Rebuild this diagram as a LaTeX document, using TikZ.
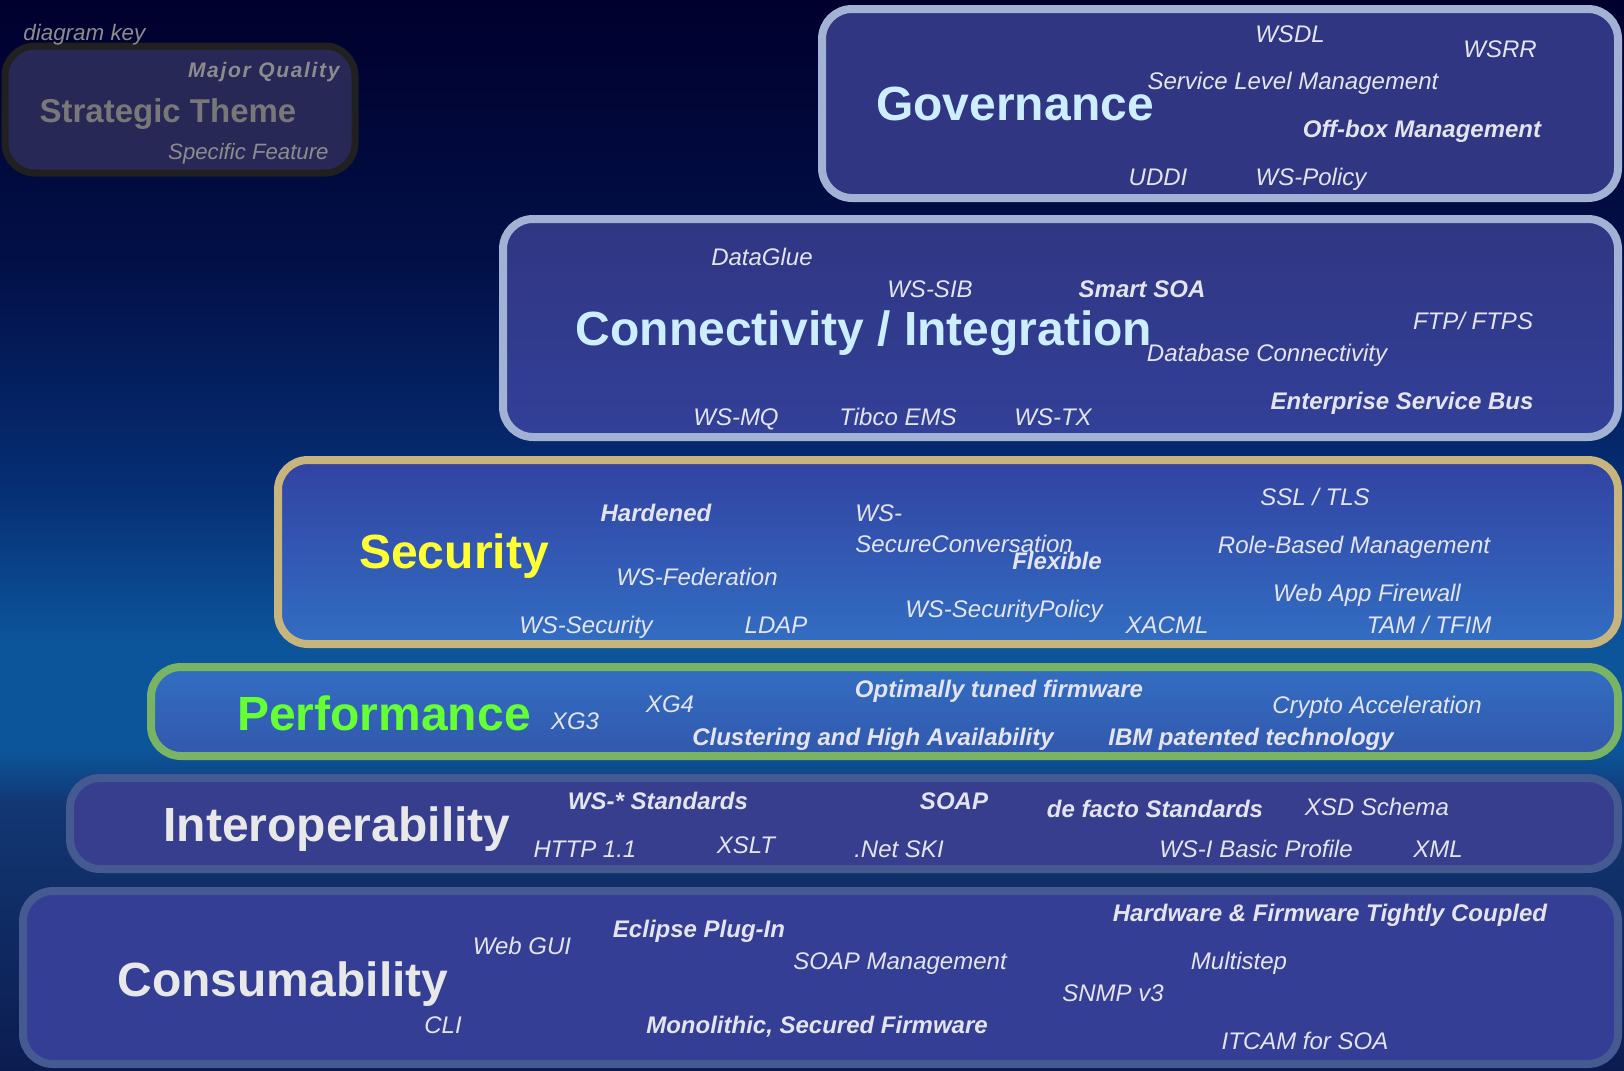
\documentclass[tikz,border=0pt]{standalone}
\usepackage{fontspec}
\usepackage{xcolor}
\usepackage{tikz}
\setmainfont{Liberation Sans}
\newfontfamily\spacedfont[LetterSpace=8]{Liberation Sans}

\definecolor{bgtop}{RGB}{0,0,45}
\definecolor{bgnight}{RGB}{2,16,72}
\definecolor{bgmid}{RGB}{6,45,115}
\definecolor{bgglow}{RGB}{12,85,155}
\definecolor{bgdusk}{RGB}{18,55,115}
\definecolor{bgbot}{RGB}{12,28,80}
\definecolor{keyfill}{RGB}{40,40,86}
\definecolor{keyline}{RGB}{32,32,32}
\definecolor{keytext}{RGB}{140,140,140}
\definecolor{keytheme}{RGB}{120,120,120}
\definecolor{paleline}{RGB}{162,178,212}
\definecolor{tanline}{RGB}{200,180,125}
\definecolor{greenline}{RGB}{120,180,100}
\definecolor{slateline}{RGB}{68,90,145}
\definecolor{navyfill}{RGB}{48,54,130}
\definecolor{indigofill}{RGB}{50,64,152}
\definecolor{royalfill}{RGB}{50,66,162}
\definecolor{skyfill}{RGB}{50,110,195}
\definecolor{cobaltfill}{RGB}{50,88,172}
\definecolor{interfill}{RGB}{55,62,142}
\definecolor{consfill}{RGB}{52,62,148}
\definecolor{featgray}{RGB}{228,228,236}
\definecolor{icecyan}{RGB}{204,238,255}
\definecolor{secyellow}{RGB}{255,255,51}
\definecolor{perfgreen}{RGB}{102,255,51}
\definecolor{softwhite}{RGB}{232,232,232}

\pgfdeclareverticalshading{nightsky}{100bp}{color(0bp)=(bgbot); color(25bp)=(bgbot);
  color(37.5bp)=(bgdusk); color(40bp)=(bgglow); color(45bp)=(bgglow);
  color(52.5bp)=(bgmid); color(62.5bp)=(bgnight); color(75bp)=(bgtop); color(100bp)=(bgtop)}

\begin{document}
\begin{tikzpicture}[x=0.5pt, y=-0.5pt,
    layer/.style={rounded corners=15pt, line width=4pt},
    theme/.style={font=\fontsize{24}{28}\selectfont\bfseries, anchor=base, inner sep=0pt},
    feature/.style={font=\fontsize{12}{14}\selectfont\itshape, text=featgray, anchor=base, inner sep=0pt},
    quality/.style={feature, font=\fontsize{12}{14}\selectfont\bfseries\itshape}]

    % background
    \useasboundingbox (0,0) rectangle (1624,1071);
    \shade [shading=nightsky] (0,0) rectangle (1624,1071);

    % diagram key
    \draw [layer, draw=keyline, fill=keyfill, line width=3.5pt] (5,46) rectangle (355,173);
    \node (keylabel) [feature, text=keytext, anchor=base west, font=\fontsize{11.2}{13}\selectfont\itshape] at (23,40) {diagram key};
    \node (keyquality) [text=keytext, anchor=base east, inner sep=0pt, font=\fontsize{10.5}{12}\spacedfont\bfseries\itshape] at (340,77) {Major Quality};
    \node (keytheme) [theme, text=keytheme, font=\fontsize{16.5}{20}\selectfont\bfseries] at (168,122) {Strategic Theme};
    \node (keyfeature) [feature, text=keytext, anchor=base east, font=\fontsize{11.1}{13}\selectfont\itshape] at (329,159) {Specific Feature};

    % the layers
    \draw [layer, draw=paleline, fill=navyfill] (822,9) rectangle (1618,198);
    \draw [layer, draw=paleline, top color=navyfill, bottom color=indigofill] (503,219) rectangle (1618,437);
    \draw [layer, draw=tanline, top color=royalfill, bottom color=skyfill] (278,460) rectangle (1618,644);
    \draw [layer, draw=greenline, top color=skyfill, bottom color=cobaltfill] (151,667) rectangle (1618,756);
    \draw [layer, draw=slateline, fill=interfill] (70,778) rectangle (1618,869);
    \draw [layer, draw=slateline, fill=consfill] (23,891) rectangle (1618,1064);

    % Governance
    \node (governance) [theme, text=icecyan] at (1015,120) {Governance};
    \node (wsdl) [feature] at (1290,42) {WSDL};
    \node (wsrr) [feature] at (1500,57) {WSRR};
    \node (slm) [feature] at (1293,89) {Service Level Management};
    \node (offbox) [quality] at (1422,137) {Off-box Management};
    \node (uddi) [feature] at (1158,185) {UDDI};
    \node (wspolicy) [feature] at (1311,185) {WS-Policy};

    % Connectivity / Integration
    \node (connectivity) [theme, text=icecyan] at (864,345) {Connectivity / Integration};
    \node (dataglue) [feature] at (762,265) {DataGlue};
    \node (wssib) [feature] at (930,297) {WS-SIB};
    \node (smartsoa) [quality] at (1142,297) {Smart SOA};
    \node (ftps) [feature] at (1473,329) {FTP/ FTPS};
    \node (database) [feature] at (1267,361) {Database Connectivity};
    \node (esb) [quality] at (1402,409) {Enterprise Service Bus};
    \node (wsmq) [feature] at (736,425) {WS-MQ};
    \node (tibco) [feature] at (898,425) {Tibco EMS};
    \node (wstx) [feature] at (1053,425) {WS-TX};

    % Security
    \node (security) [theme, text=secyellow] at (454,568) {Security};
    \node (hardened) [quality] at (656,521) {Hardened};
    \node (wssc) [feature, anchor=base west] at (855,521) {WS-};
    \node (secconv) [feature, anchor=base west] at (855,552) {SecureConversation};
    \node (flexible) [quality] at (1057,569) {Flexible};
    \node (ssltls) [feature] at (1315,505) {SSL / TLS};
    \node (rolebased) [feature] at (1354,553) {Role-Based Management};
    \node (wsfed) [feature] at (697,585) {WS-Federation};
    \node (webapp) [feature] at (1367,601) {Web App Firewall};
    \node (wssecpol) [feature] at (1004,617) {WS-SecurityPolicy};
    \node (wssecurity) [feature] at (586,633) {WS-Security};
    \node (ldap) [feature] at (776,633) {LDAP};
    \node (xacml) [feature] at (1167,633) {XACML};
    \node (tamtfim) [feature] at (1429,633) {TAM / TFIM};

    % Performance
    \node (performance) [theme, text=perfgreen] at (384,730) {Performance};
    \node (xgthree) [feature] at (575,729) {XG3};
    \node (xgfour) [feature] at (670,712) {XG4};
    \node (tuned) [quality] at (999,697) {Optimally tuned firmware};
    \node (crypto) [feature] at (1377,713) {Crypto Acceleration};
    \node (clustering) [quality] at (873,745) {Clustering and High Availability};
    \node (patented) [quality] at (1251,745) {IBM patented technology};

    % Interoperability
    \node (interop) [theme, text=softwhite] at (337,841) {Interoperability};
    \node (wsstar) [quality] at (658,809) {WS-* Standards};
    \node (soap) [quality] at (954,809) {SOAP};
    \node (defacto) [quality] at (1155,817) {de facto Standards};
    \node (xsd) [feature] at (1377,815) {XSD Schema};
    \node (http) [feature] at (585,857) {HTTP 1.1};
    \node (xslt) [feature] at (746,853) {XSLT};
    \node (netski) [feature] at (899,857) {.Net SKI};
    \node (wsi) [feature] at (1256,857) {WS-I Basic Profile};
    \node (xml) [feature] at (1438,857) {XML};

    % Consumability
    \node (consumability) [theme, text=softwhite] at (283,996) {Consumability};
    \node (webgui) [feature] at (522,954) {Web GUI};
    \node (eclipse) [quality] at (699,937) {Eclipse Plug-In};
    \node (soapmgmt) [feature] at (900,969) {SOAP Management};
    \node (coupled) [quality] at (1330,921) {Hardware \& Firmware Tightly Coupled};
    \node (multistep) [feature] at (1239,969) {Multistep};
    \node (snmp) [feature] at (1113,1001) {SNMP v3};
    \node (cli) [feature] at (443,1033) {CLI};
    \node (monolithic) [quality] at (817,1033) {Monolithic, Secured Firmware};
    \node (itcam) [feature] at (1305,1049) {ITCAM for SOA};
\end{tikzpicture}
\end{document}
